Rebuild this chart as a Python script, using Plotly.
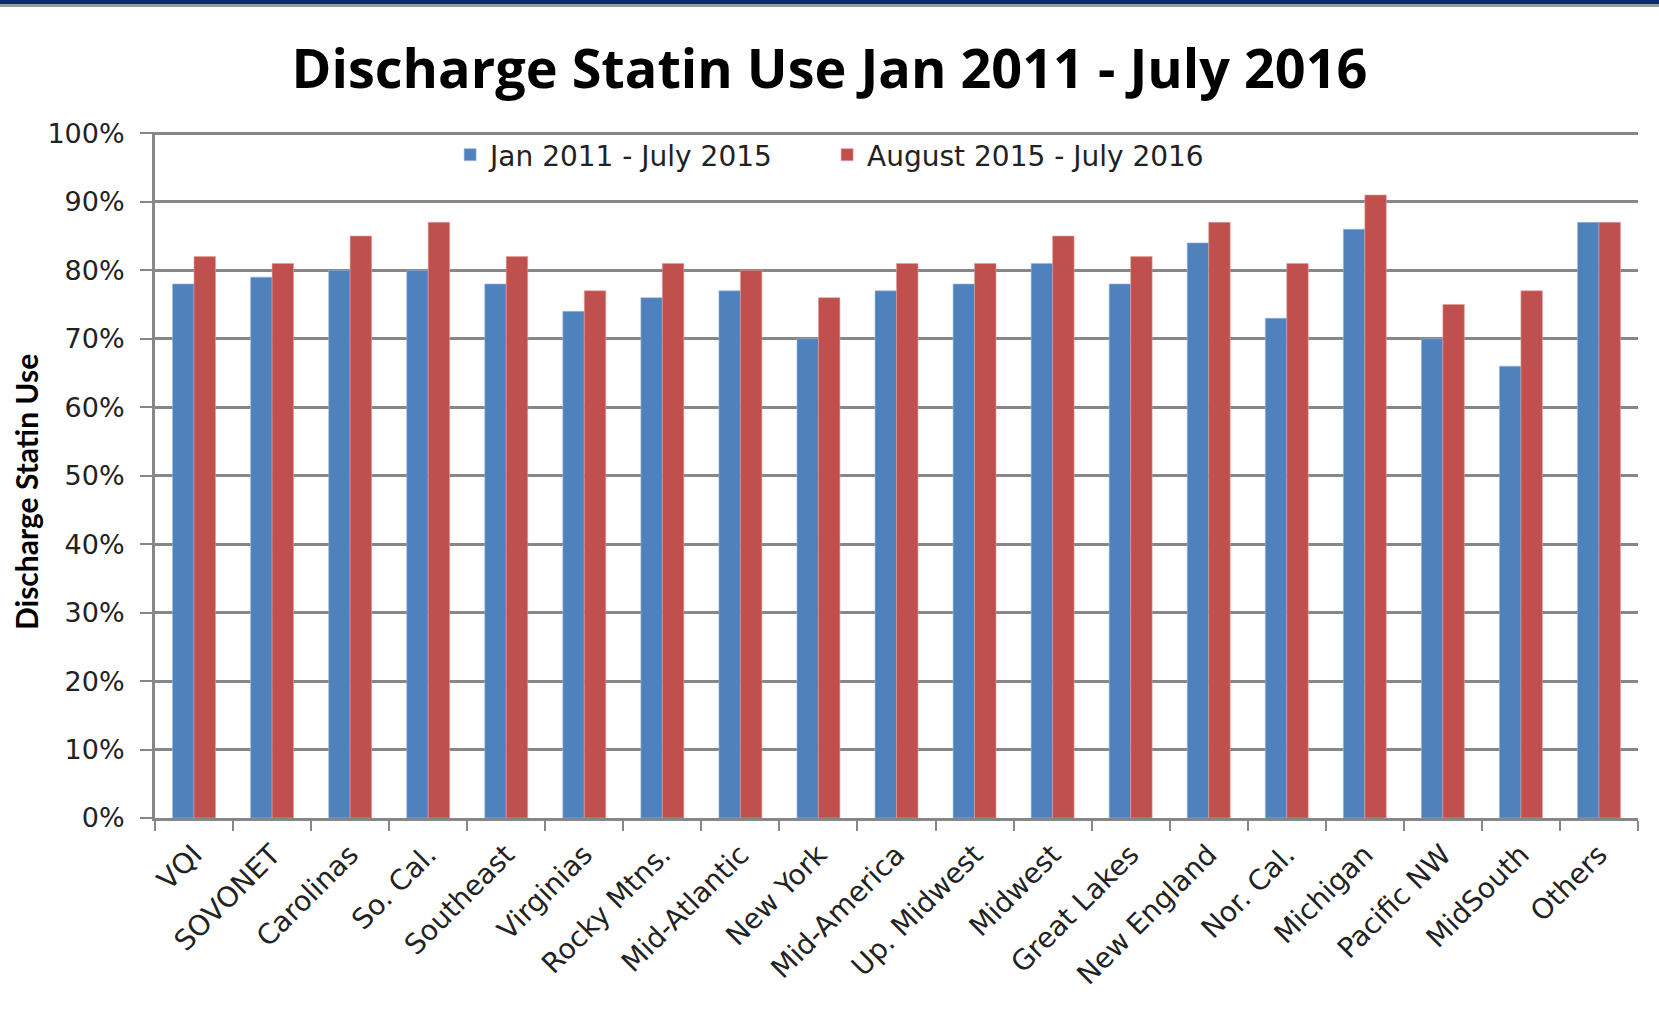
import plotly.graph_objects as go

categories = ["VQI", "SOVONET", "Carolinas", "So. Cal.", "Southeast", "Virginias",
              "Rocky Mtns.", "Mid-Atlantic", "New York", "Mid-America", "Up. Midwest",
              "Midwest", "Great Lakes", "New England", "Nor. Cal.", "Michigan",
              "Pacific NW", "MidSouth", "Others"]
series1_name = "Jan 2011 - July 2015"
series1 = [0.78, 0.79, 0.80, 0.80, 0.78, 0.74, 0.76, 0.77, 0.70, 0.77, 0.78,
           0.81, 0.78, 0.84, 0.73, 0.86, 0.70, 0.66, 0.87]
series2_name = "August 2015 - July 2016"
series2 = [0.82, 0.81, 0.85, 0.87, 0.82, 0.77, 0.81, 0.80, 0.76, 0.81, 0.81,
           0.85, 0.82, 0.87, 0.81, 0.91, 0.75, 0.77, 0.87]
title_text = "Discharge Statin Use Jan 2011 - July 2016"
yaxis_title = "Discharge Statin Use"

W, H = 1659, 1022
ML, MR, MT, MB = 155, 21, 132, 204
pw, ph = W - ML - MR, H - MT - MB

grid = "#878787"
ytickfont = dict(family="DejaVu Sans", size=27, color="#222222")
xtickfont = dict(family="DejaVu Sans", size=28, color="#222222")

fig = go.Figure()
fig.add_trace(go.Bar(x=categories, y=series1, name=series1_name,
                     marker=dict(color="#4F81BD", line=dict(color="#9DB8DC", width=0.6))))
fig.add_trace(go.Bar(x=categories, y=series2, name=series2_name,
                     marker=dict(color="#C0504D", line=dict(color="#E09C9A", width=0.6))))

fig.update_layout(
    width=W, height=H,
    margin=dict(l=ML, r=MR, t=MT, b=MB),
    paper_bgcolor="white", plot_bgcolor="white",
    barmode="group", bargap=0.45, bargroupgap=0,
    title=dict(text="<b>" + title_text + "</b>", x=0.5, xref="container", xanchor="center",
               y=1 - 69 / H, yref="container", yanchor="middle",
               font=dict(family="Open Sans", size=54, color="black")),
    legend=dict(orientation="h", x=0.199, xanchor="left", y=(ph - 23) / ph, yanchor="middle",
                font=dict(family="DejaVu Sans", size=28, color="#222222"),
                bgcolor="rgba(0,0,0,0)", entrywidth=332, entrywidthmode="pixels",
                itemwidth=30),
    xaxis=dict(type="category", tickson="boundaries", ticks="outside", ticklen=10,
               tickwidth=2, tickcolor=grid, showline=True, linecolor=grid, linewidth=3,
               showgrid=False, tickangle=-45, tickfont=xtickfont, automargin=False,
               ticklabelstandoff=6),
    yaxis=dict(range=[0, 1.002], dtick=0.1, tickformat=".0%", ticks="outside", ticklen=12,
               tickwidth=2, tickcolor=grid, showline=True, linecolor=grid, linewidth=3,
               showgrid=True, gridcolor=grid, gridwidth=2.5, zeroline=False,
               tickfont=ytickfont, automargin=False, ticklabelstandoff=10),
    showlegend=True,
)

fig.add_annotation(text="<b>" + yaxis_title + "</b>", textangle=-90,
                   xref="paper", yref="paper", x=(26 - ML) / pw, y=(H - MB - 492) / ph,
                   xanchor="center", yanchor="middle", showarrow=False,
                   font=dict(family="Lato", size=30, color="black"))

# top decorative band
fig.add_shape(type="rect", xref="paper", yref="paper",
              x0=-ML / pw, x1=(W - ML) / pw, y0=(H - MB - 4) / ph, y1=(H - MB + 2) / ph,
              fillcolor="#0B2A6F", line=dict(width=0), layer="above")
fig.add_shape(type="rect", xref="paper", yref="paper",
              x0=-ML / pw, x1=(W - ML) / pw, y0=(H - MB - 7) / ph, y1=(H - MB - 4) / ph,
              fillcolor="#9A9A9A", line=dict(width=0), layer="above")

fig.write_html("out.html")
